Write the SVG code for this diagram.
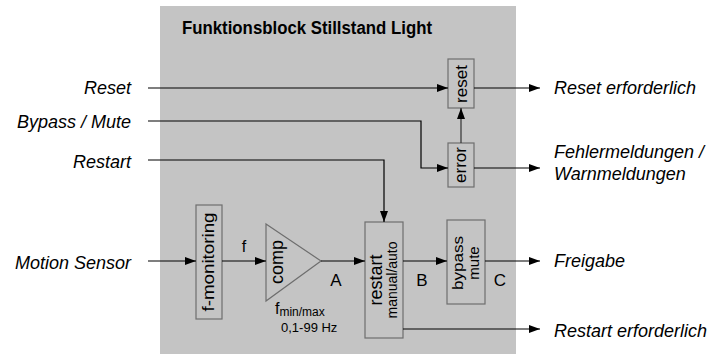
<svg xmlns="http://www.w3.org/2000/svg" width="715" height="356" viewBox="0 0 715 356">
  <defs>
    <marker id="arr" markerUnits="userSpaceOnUse" markerWidth="12" markerHeight="10" refX="11" refY="4" orient="auto">
      <path d="M0,0 L11,4 L0,8 z" fill="#000"/>
    </marker>
    <style>
      .lbl { font-family: "Liberation Sans", Arial, sans-serif; font-style: italic; font-size: 18px; fill: #000; }
      .box { fill: #c4c4c4; stroke: #6e6e6e; stroke-width: 1.2; }
      .txt { font-family: "Liberation Sans", Arial, sans-serif; fill: #000; }
      .con { fill: none; stroke: #000; stroke-width: 1.2; }
      .con2 { fill: none; stroke: #333; stroke-width: 1.2; }
    </style>
  </defs>
  <rect width="715" height="356" fill="#fff"/>
  <g id="frame">
    <rect x="160" y="6" width="356" height="348" fill="#c4c4c4"/>
    <text class="txt" x="307" y="34" font-size="18" font-weight="bold" text-anchor="middle" textLength="250" lengthAdjust="spacingAndGlyphs">Funktionsblock Stillstand Light</text>
  </g>
  <g id="inputs">
    <text class="lbl" x="131" y="94" text-anchor="end">Reset</text>
    <text class="lbl" x="131" y="128" text-anchor="end">Bypass / Mute</text>
    <text class="lbl" x="131" y="168" text-anchor="end">Restart</text>
    <text class="lbl" x="131" y="269" text-anchor="end">Motion Sensor</text>
  </g>
  <g id="outputs">
    <text class="lbl" x="554" y="94">Reset erforderlich</text>
    <text class="lbl" x="554" y="158">Fehlermeldungen /</text>
    <text class="lbl" x="554" y="180">Warnmeldungen</text>
    <text class="lbl" x="554" y="267">Freigabe</text>
    <text class="lbl" x="554" y="337">Restart erforderlich</text>
  </g>
  <g id="f-monitoring">
    <rect class="box" x="196" y="205" width="26" height="114"/>
    <text class="txt" x="0" y="0" font-size="16" text-anchor="middle" textLength="99" lengthAdjust="spacingAndGlyphs" transform="translate(214,262) rotate(-90)">f-monitoring</text>
  </g>
  <g id="comp">
    <path class="box" d="M266,224 L321,261 L266,301 Z"/>
    <text class="txt" x="0" y="0" font-size="18" text-anchor="middle" transform="translate(283,262) rotate(-90)">comp</text>
    <text class="txt" x="275" y="314" font-size="16">f<tspan font-size="12" dy="2">min/max</tspan></text>
    <text class="txt" x="281" y="332" font-size="13">0,1-99 Hz</text>
  </g>
  <g id="restart">
    <rect class="box" x="365" y="222" width="38" height="116"/>
    <text class="txt" x="0" y="0" font-size="18" text-anchor="middle" transform="translate(382,280) rotate(-90)">restart</text>
    <text class="txt" x="0" y="0" font-size="14" text-anchor="middle" transform="translate(397,280) rotate(-90)">manual/auto</text>
  </g>
  <g id="bypass">
    <rect class="box" x="447" y="220" width="38" height="84"/>
    <text class="txt" x="0" y="0" font-size="15" text-anchor="middle" textLength="54" lengthAdjust="spacingAndGlyphs" transform="translate(463,263) rotate(-90)">bypass</text>
    <text class="txt" x="0" y="0" font-size="15" text-anchor="middle" transform="translate(479,263) rotate(-90)">mute</text>
  </g>
  <g id="reset">
    <rect class="box" x="448" y="59" width="26" height="49"/>
    <text class="txt" x="0" y="0" font-size="17" text-anchor="middle" transform="translate(467,84) rotate(-90)">reset</text>
  </g>
  <g id="error">
    <rect class="box" x="448" y="143" width="26" height="44"/>
    <text class="txt" x="0" y="0" font-size="17" text-anchor="middle" transform="translate(466,165) rotate(-90)">error</text>
  </g>
  <g id="signal-labels">
    <text class="txt" x="244" y="252" font-size="16" text-anchor="middle">f</text>
    <text class="txt" x="336" y="286" font-size="17" text-anchor="middle">A</text>
    <text class="txt" x="422" y="286" font-size="17" text-anchor="middle">B</text>
    <text class="txt" x="500" y="286" font-size="17" text-anchor="middle">C</text>
  </g>
  <g id="connectors">
    <path class="con" d="M148,88 H448" marker-end="url(#arr)"/>
    <path class="con" d="M148,121 H421 V168 H448" marker-end="url(#arr)"/>
    <path class="con" d="M148,160 H384 V222" marker-end="url(#arr)"/>
    <path class="con" d="M148,261 H196" marker-end="url(#arr)"/>
    <path class="con" d="M222,261 H266" marker-end="url(#arr)"/>
    <path class="con" d="M321,261 H365" marker-end="url(#arr)"/>
    <path class="con" d="M403,261 H447" marker-end="url(#arr)"/>
    <path class="con2" d="M461,143 V108" marker-end="url(#arr)"/>
    <path class="con" d="M474,88 H540" marker-end="url(#arr)"/>
    <path class="con" d="M474,168 H540" marker-end="url(#arr)"/>
    <path class="con" d="M485,261 H540" marker-end="url(#arr)"/>
    <path class="con" d="M403,329 H540" marker-end="url(#arr)"/>
  </g>
</svg>
